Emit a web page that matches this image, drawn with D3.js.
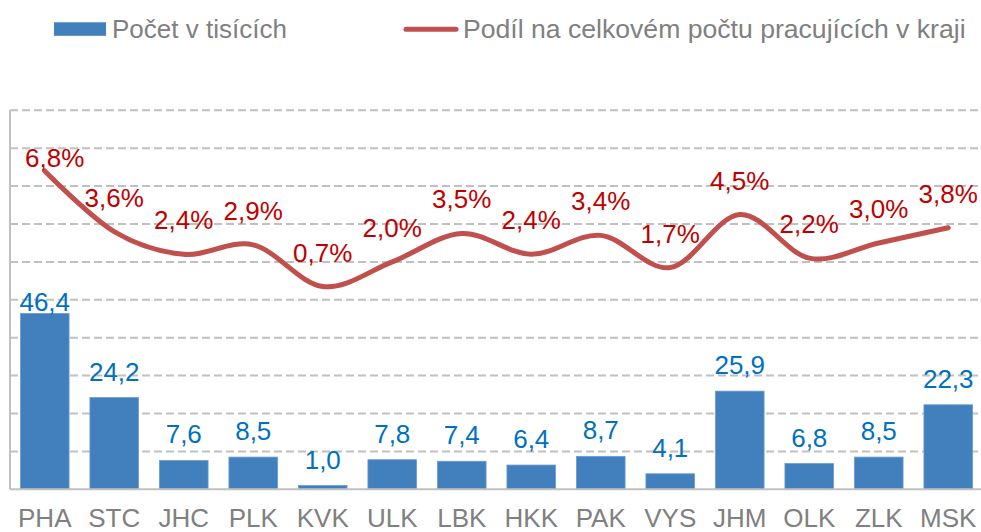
<!DOCTYPE html>
<html>
<head>
<meta charset="utf-8">
<script src="https://cdn.jsdelivr.net/npm/d3@7"></script>
<style>
  html, body { margin: 0; padding: 0; background: #fff; }
  svg { display: block; font-family: "Liberation Sans", Arial, sans-serif; }
</style>
</head>
<body>
<div id="chart"></div>
<script>
// data
const regions = ["PHA", "STC", "JHC", "PLK", "KVK", "ULK", "LBK", "HKK", "PAK", "VYS", "JHM", "OLK", "ZLK", "MSK"]
const counts = [46.4, 24.2, 7.6, 8.5, 1.0, 7.8, 7.4, 6.4, 8.7, 4.1, 25.9, 6.8, 8.5, 22.3]
const shares = [6.8, 3.6, 2.4, 2.9, 0.7, 2.0, 3.5, 2.4, 3.4, 1.7, 4.5, 2.2, 3.0, 3.8]
const countTicks = [10, 20, 30, 40, 50, 60, 70, 80, 90, 100]
const seriesNames = ["Počet v tisících", "Podíl na celkovém počtu pracujících v kraji"]

const width = 981, height = 532
const plot = { left: 10, right: 983, top: 110.3, bottom: 489.3 }

const fmt = v => v.toFixed(1).replace(".", ",")

const svg = d3.select("#chart").append("svg")
    .attr("width", width)
    .attr("height", height)

// scales
const x = d3.scaleBand()
    .domain(regions)
    .range([plot.left, plot.right])
    .paddingInner(0.3)
    .paddingOuter(0.15)

const y = d3.scaleLinear()
    .domain([0, 100])
    .range([plot.bottom, plot.top])

// secondary axis for the share line (-10 % .. 10 %)
const y2 = d3.scaleLinear()
    .domain([-10, 10])
    .range([plot.bottom, plot.top])

// gridlines
svg.append("g")
    .selectAll("line")
    .data(countTicks)
    .join("line")
    .attr("x1", plot.left)
    .attr("x2", width)
    .attr("y1", d => y(d))
    .attr("y2", d => y(d))
    .attr("stroke", "#c0c0c0")
    .attr("stroke-width", 2)
    .attr("stroke-dasharray", "8,4")

// left axis line
svg.append("line")
    .attr("x1", plot.left).attr("x2", plot.left)
    .attr("y1", plot.top).attr("y2", plot.bottom)
    .attr("stroke", "#bfbfbf")
    .attr("stroke-width", 2)

// bars
svg.append("g")
    .selectAll("rect")
    .data(regions)
    .join("rect")
    .attr("x", d => x(d))
    .attr("y", (d, i) => y(counts[i]))
    .attr("width", x.bandwidth())
    .attr("height", (d, i) => y(0) - y(counts[i]))
    .attr("fill", "#4180bd")
    .attr("stroke", "#6b9bd0")
    .attr("stroke-width", 0.8)

// baseline
svg.append("line")
    .attr("x1", plot.left).attr("x2", width)
    .attr("y1", y(0)).attr("y2", y(0))
    .attr("stroke", "#c0c0c0")
    .attr("stroke-width", 2)

// category labels
svg.append("g")
    .selectAll("text")
    .data(regions)
    .join("text")
    .attr("x", d => x(d) + x.bandwidth() / 2)
    .attr("y", 526.5)
    .attr("text-anchor", "middle")
    .attr("font-size", "26px")
    .attr("fill", "#808080")
    .text(d => d)

// line
const line = d3.line()
    .x((d, i) => x(regions[i]) + x.bandwidth() / 2)
    .y(d => y2(d))
    .curve(d3.curveCardinal.tension(0))

svg.append("path")
    .datum(shares)
    .attr("d", line)
    .attr("fill", "none")
    .attr("stroke", "#c0504d")
    .attr("stroke-width", 5)
    .attr("stroke-linecap", "round")

// bar labels (first one sits lower, inside the top)
svg.append("g")
    .selectAll("text")
    .data(counts)
    .join("text")
    .attr("x", (d, i) => x(regions[i]) + x.bandwidth() / 2)
    .attr("y", (d, i) => y(d) - (i === 0 ? 2 : 17))
    .attr("text-anchor", "middle")
    .attr("font-size", "26px")
    .attr("fill", "#0070c0")
    .text(d => fmt(d))

// line labels
svg.append("g")
    .selectAll("text")
    .data(shares)
    .join("text")
    .attr("x", (d, i) => x(regions[i]) + x.bandwidth() / 2 + (i === 0 ? 10 : 0))
    .attr("y", (d, i) => y2(d) - (i === 0 ? 4 : 25))
    .attr("text-anchor", "middle")
    .attr("font-size", "26px")
    .attr("fill", "#c00000")
    .text(d => fmt(d) + "%")

// legend
const legend = svg.append("g")
legend.append("rect")
    .attr("x", 54).attr("y", 22.3)
    .attr("width", 52).attr("height", 13.5)
    .attr("fill", "#4180bd")
legend.append("text")
    .attr("x", 112).attr("y", 37.5)
    .attr("font-size", "26px")
    .attr("fill", "#808080")
    .text(seriesNames[0])
legend.append("line")
    .attr("x1", 406).attr("x2", 456)
    .attr("y1", 29.3).attr("y2", 29.3)
    .attr("stroke", "#c0504d")
    .attr("stroke-width", 5)
    .attr("stroke-linecap", "round")
legend.append("text")
    .attr("x", 463).attr("y", 37.5)
    .attr("font-size", "26.6px")
    .attr("fill", "#808080")
    .text(seriesNames[1])
</script>
</body>
</html>
